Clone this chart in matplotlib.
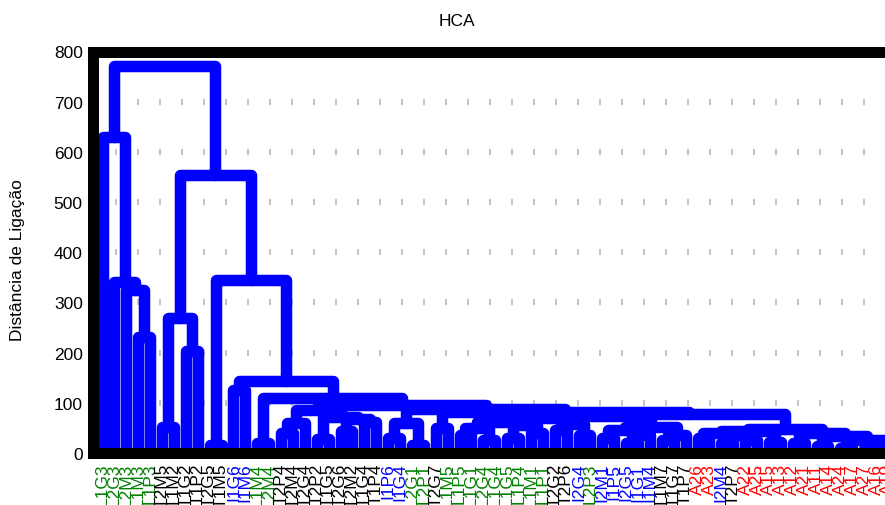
import matplotlib
matplotlib.use("Agg")
import matplotlib.pyplot as plt

plt.rcParams['font.family'] = ['Liberation Sans', 'DejaVu Sans']
plt.rcParams['lines.scale_dashes'] = False

# Sample labels in dendrogram (leaf) order; the prefix gives the sample group
leaf_labels = [
    "L1G3", "L2G3", "L2M3", "L1M3", "L1P3", "T2M5", "T1M2", "T1G2", "T1P2", "T2G5",
    "T1M5", "I1G6", "I1M6", "L1M4", "L2M4", "T2P4", "T2M4", "T2G4", "T2P2", "T1G5",
    "T2G6", "T2M2", "T1G4", "T1P4", "I1P6", "I1G4", "L2G1", "L2P1", "T2G7", "L1M5",
    "L1P5", "L1G1", "L2G4", "L1G4", "L1G5", "L1P4", "L1M1", "L1P1", "T2G2", "T2P6",
    "I2G4", "L2P3", "I2M1", "I1P5", "I2G5", "I1G1", "I1M4", "T1M7", "T1G7", "T1P7",
    "A26", "A23", "I2M4", "T2P7", "A22", "A25", "A15", "A13", "A12", "A21",
    "A11", "A14", "A24", "A17", "A27", "A16", "A19", "A18", "A29", "A28",
]
group_colors = {"L": "#008000", "T": "#000000", "I": "#0000ff", "A": "#ff0000"}

# Merges: cluster [lo, hi] is formed by joining [lo, split-1] and [split, hi]
merge_lo = [3, 2, 1, 0, 5, 7, 5, 9, 11, 13,
            15, 15, 18, 20, 22, 20, 18, 15, 24, 26,
            24, 28, 30, 32, 30, 34, 36, 34, 30, 38,
            40, 38, 30, 42, 44, 44, 42, 47, 47, 42,
            30, 50, 52, 54, 52, 50, 56, 58, 60, 62,
            64, 66, 68, 66, 64, 62, 60, 58, 50, 50,
            30, 28, 24, 15, 13, 11, 9, 5, 0]
merge_split = [4, 3, 2, 1, 6, 8, 7, 10, 12, 14,
               16, 17, 19, 21, 23, 22, 20, 18, 25, 27,
               26, 29, 31, 33, 32, 35, 37, 36, 34, 39,
               41, 40, 38, 43, 45, 46, 44, 48, 49, 47,
               42, 51, 53, 55, 54, 52, 57, 59, 61, 63,
               65, 67, 69, 68, 66, 64, 62, 60, 56, 58,
               50, 30, 28, 24, 15, 13, 11, 9, 5]
merge_hi = [4, 4, 4, 4, 6, 8, 8, 10, 12, 14,
            16, 17, 19, 21, 23, 23, 23, 23, 25, 27,
            27, 29, 31, 33, 33, 35, 37, 37, 37, 39,
            41, 41, 41, 43, 45, 46, 46, 48, 49, 49,
            49, 51, 53, 55, 55, 55, 57, 59, 61, 63,
            65, 67, 69, 69, 69, 69, 69, 69, 57, 69,
            69, 69, 69, 69, 69, 69, 69, 69, 69]
merge_height = [231, 324, 341, 629, 51, 203, 268, 16, 125, 20,
                40, 60, 27, 44, 61, 68, 72, 85, 30, 15,
                60, 50, 35, 25, 50, 30, 40, 55, 62, 45,
                35, 58, 70, 30, 20, 35, 45, 25, 35, 52,
                74, 30, 20, 25, 35, 40, 22, 20, 14, 10,
                8, 7, 5, 12, 20, 26, 34, 40, 44, 47,
                77, 82, 88, 95, 110, 143, 344, 553, 771]

y_ticks = [0, 100, 200, 300, 400, 500, 600, 700, 800]

n_leaves = len(leaf_labels)
line_color = "#0000ff"
line_px = 11.5
lw = line_px * 72 / 100

fig = plt.figure(figsize=(8.85, 5.06), dpi=100)
leaf_step = 11.9
ax_w = 841
ax = fig.add_axes([92.5 / 885, 52 / 506, ax_w / 885, 401.5 / 506])
x0 = -10 / leaf_step
ax.set_xlim(x0, x0 + ax_w / leaf_step)
ax.set_ylim(y_ticks[0], y_ticks[-1])

# dotted guide lines
for yv in y_ticks[1:-1]:
    ax.axhline(yv, color="#c4c4c4", lw=4.3, dashes=(1.44, 14.4),
               dash_capstyle="butt", zorder=0.5)

# build the dendrogram from the merge table
nodes = {(i, i): (float(i), 0.0) for i in range(n_leaves)}
order = sorted(range(len(merge_height)), key=lambda k: merge_height[k])
for k in order:
    lo, sp, hi, h = merge_lo[k], merge_split[k], merge_hi[k], merge_height[k]
    xl, hl = nodes[(lo, sp - 1)]
    xr, hr = nodes[(sp, hi)]
    ax.plot([xl, xl, xr, xr], [hl, h, h, hr], color=line_color, lw=lw,
            solid_joinstyle="round", solid_capstyle="round", zorder=2)
    nodes[(lo, hi)] = ((xl + xr) / 2, h)

for side in ("top", "bottom", "left", "right"):
    ax.spines[side].set_linewidth(11 * 72 / 100)
    ax.spines[side].set_color("black")

ax.set_yticks(y_ticks)
ax.set_yticklabels([str(v) for v in y_ticks], fontsize=12.5)
ax.set_xticks(range(n_leaves))
ax.set_xticklabels(leaf_labels, rotation=90, fontsize=12.5)
for t, lab in zip(ax.get_xticklabels(), leaf_labels):
    t.set_color(group_colors[lab[0]])
ax.tick_params(axis="both", length=0, pad=7)

fig.text(457 / 885, 1 - 22 / 506, "HCA", fontsize=12.5, ha="center", va="center")
fig.text(18 / 885, 1 - 260 / 506, "Distância de Ligação", fontsize=12.5,
         rotation=90, ha="center", va="center")

fig.savefig("out.png", dpi=100)
